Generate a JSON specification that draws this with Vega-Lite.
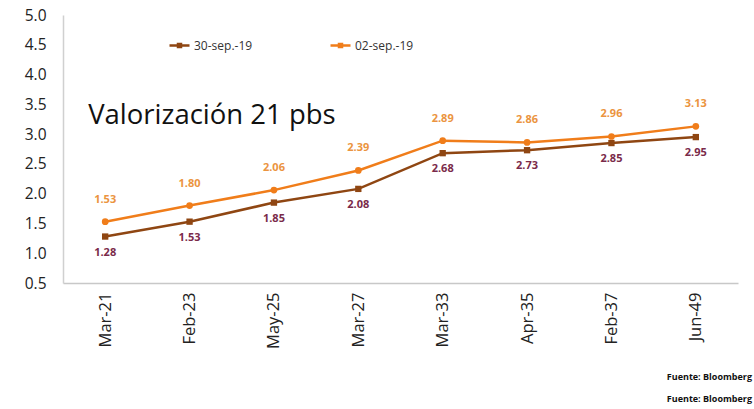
{
  "$schema": "https://vega.github.io/schema/vega-lite/v6.json",
  "width": 675,
  "height": 268,
  "autosize": {"type": "none"},
  "padding": {"left": 63, "top": 15, "right": 16, "bottom": 126},
  "background": "white",
  "config": {
    "view": {"stroke": null},
    "font": "Open Sans"
  },
  "title": {
    "text": "Fuente: Bloomberg",
    "subtitle": "Fuente: Bloomberg",
    "orient": "bottom",
    "anchor": "end",
    "fontSize": 9,
    "fontWeight": "bold",
    "color": "#111",
    "subtitleFontSize": 9,
    "subtitleFontWeight": "bold",
    "subtitleColor": "#111",
    "subtitlePadding": 13,
    "offset": 25,
    "dx": 14
  },
  "datasets": {
    "curvas": [
      {"tenor": "Mar-21", "serie": "30-sep.-19", "tasa": 1.28},
      {"tenor": "Feb-23", "serie": "30-sep.-19", "tasa": 1.53},
      {"tenor": "May-25", "serie": "30-sep.-19", "tasa": 1.85},
      {"tenor": "Mar-27", "serie": "30-sep.-19", "tasa": 2.08},
      {"tenor": "Mar-33", "serie": "30-sep.-19", "tasa": 2.68},
      {"tenor": "Apr-35", "serie": "30-sep.-19", "tasa": 2.73},
      {"tenor": "Feb-37", "serie": "30-sep.-19", "tasa": 2.85},
      {"tenor": "Jun-49", "serie": "30-sep.-19", "tasa": 2.95},
      {"tenor": "Mar-21", "serie": "02-sep.-19", "tasa": 1.53},
      {"tenor": "Feb-23", "serie": "02-sep.-19", "tasa": 1.80},
      {"tenor": "May-25", "serie": "02-sep.-19", "tasa": 2.06},
      {"tenor": "Mar-27", "serie": "02-sep.-19", "tasa": 2.39},
      {"tenor": "Mar-33", "serie": "02-sep.-19", "tasa": 2.89},
      {"tenor": "Apr-35", "serie": "02-sep.-19", "tasa": 2.86},
      {"tenor": "Feb-37", "serie": "02-sep.-19", "tasa": 2.96},
      {"tenor": "Jun-49", "serie": "02-sep.-19", "tasa": 3.13}
    ],
    "nota": [
      {"tenor": "Mar-21", "tasa": 3.3, "texto": "Valorización 21 pbs"}
    ]
  },
  "data": {"name": "curvas"},
  "encoding": {
    "x": {
      "field": "tenor",
      "type": "ordinal",
      "sort": null,
      "scale": {"type": "point", "padding": 0.5},
      "axis": {
        "title": null,
        "labelAngle": 270,
        "labelFontSize": 16.5,
        "labelColor": "#222",
        "labelPadding": 9,
        "ticks": false,
        "grid": false,
        "domainColor": "#c8c8c8",
        "domainWidth": 1.5
      }
    },
    "y": {
      "field": "tasa",
      "type": "quantitative",
      "scale": {"domain": [0.5, 5], "nice": false, "zero": false},
      "axis": {
        "title": null,
        "values": [0.5, 1, 1.5, 2, 2.5, 3, 3.5, 4, 4.5, 5],
        "format": ".1f",
        "labelFontSize": 15.5,
        "labelColor": "#222",
        "labelPadding": 17,
        "ticks": false,
        "grid": false,
        "domainColor": "#d0d0d0",
        "domainWidth": 1.5
      }
    }
  },
  "layer": [
    {
      "mark": {"type": "line", "strokeWidth": 2.5},
      "encoding": {
        "color": {
          "field": "serie",
          "type": "nominal",
          "scale": {"domain": ["30-sep.-19", "02-sep.-19"], "range": ["#8f4612", "#f07d1a"]},
          "legend": {
            "title": null,
            "orient": "none",
            "direction": "horizontal",
            "legendX": 105,
            "legendY": 19,
            "labelFontSize": 12,
            "labelColor": "#333",
            "symbolType": "M-1,0H1M-0.15,-0.15H0.15V0.15H-0.15Z",
            "symbolSize": 400,
            "symbolStrokeWidth": 2.5,
            "columnPadding": 72,
            "labelOffset": 3
          }
        }
      }
    },
    {
      "transform": [{"filter": "datum.serie === '30-sep.-19'"}],
      "mark": {"type": "point", "shape": "square", "filled": true, "opacity": 1, "size": 40, "color": "#8f4612"}
    },
    {
      "transform": [{"filter": "datum.serie === '02-sep.-19'"}],
      "mark": {"type": "point", "shape": "circle", "filled": true, "opacity": 1, "size": 45, "color": "#f07d1a"}
    },
    {
      "transform": [{"filter": "datum.serie === '02-sep.-19'"}],
      "mark": {"type": "text", "dy": -22, "fontSize": 11, "fontWeight": "bold", "color": "#eb9440"},
      "encoding": {"text": {"field": "tasa", "type": "quantitative", "format": ".2f"}}
    },
    {
      "transform": [{"filter": "datum.serie === '30-sep.-19'"}],
      "mark": {"type": "text", "dy": 16, "fontSize": 11, "fontWeight": "bold", "color": "#7a2a4a"},
      "encoding": {"text": {"field": "tasa", "type": "quantitative", "format": ".2f"}}
    },
    {
      "data": {"name": "nota"},
      "mark": {"type": "text", "align": "left", "baseline": "middle", "fontSize": 27.5, "color": "#111", "dx": -17},
      "encoding": {
        "text": {"field": "texto", "type": "nominal"}
      }
    }
  ]
}
